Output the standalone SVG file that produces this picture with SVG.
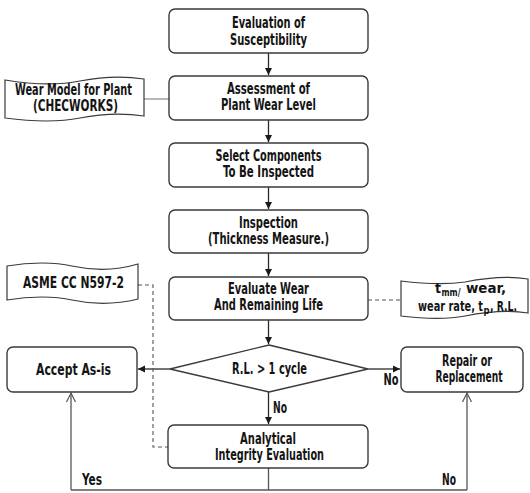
<svg xmlns="http://www.w3.org/2000/svg" width="530" height="493" viewBox="0 0 530 493">
  <style>
    .box { fill: #fff; stroke: #3a3a3a; stroke-width: 1.4; }
    .doc { fill: #fff; stroke: #3a3a3a; stroke-width: 1.2; }
    .lbl { font-family: "DejaVu Sans Condensed", "Liberation Sans Narrow", sans-serif; font-stretch: condensed; font-weight: bold; font-size: 15.5px; fill: #141414; text-anchor: middle; }
    .st { text-anchor: start; font-size: 14px; }
    .sub { font-size: 10px; }
    .flow { fill: none; stroke: #2a2a2a; stroke-width: 1.3; }
    .ret { fill: none; stroke: #555; stroke-width: 1.3; }
    .dash { fill: none; stroke: #555; stroke-width: 1.1; stroke-dasharray: 4 3; }
    .ref { fill: none; stroke: #888; stroke-width: 1.2; }
  </style>
  <defs>
    <marker id="arr" markerWidth="8" markerHeight="8" refX="7" refY="4" orient="auto" markerUnits="userSpaceOnUse">
      <path d="M0,0.5 L7,4 L0,7.5 Z" fill="#1a1a1a"/>
    </marker>
    <marker id="open" markerWidth="12" markerHeight="12" refX="10" refY="6" orient="auto" markerUnits="userSpaceOnUse">
      <path d="M1,1.5 L10,6 L1,10.5" fill="none" stroke="#555" stroke-width="1.2"/>
    </marker>
  </defs>

  <!-- connectors -->
  <g id="connectors">
    <line class="flow" x1="268.5" y1="53" x2="268.5" y2="75" marker-end="url(#arr)"/>
    <line class="flow" x1="268.5" y1="120" x2="268.5" y2="142" marker-end="url(#arr)"/>
    <line class="flow" x1="268.5" y1="187" x2="268.5" y2="209" marker-end="url(#arr)"/>
    <line class="flow" x1="268.5" y1="253" x2="268.5" y2="276" marker-end="url(#arr)"/>
    <line class="flow" x1="268.5" y1="320" x2="268.5" y2="344" marker-end="url(#arr)"/>
    <line class="flow" x1="268.5" y1="392" x2="268.5" y2="424" marker-end="url(#arr)"/>
    <line class="flow" x1="170" y1="369" x2="138" y2="369" marker-end="url(#arr)"/>
    <line class="flow" x1="368" y1="369" x2="400" y2="369" marker-end="url(#arr)"/>
    <!-- return lines from the integrity evaluation -->
    <path class="ret" d="M268.5,468 V490"/>
    <path class="ret" d="M71,490 H467"/>
    <line class="ret" x1="71" y1="490" x2="71" y2="393" marker-end="url(#open)"/>
    <line class="ret" x1="467" y1="490" x2="467" y2="393" marker-end="url(#open)"/>
    <!-- reference links -->
    <line class="ref" x1="144" y1="99" x2="169" y2="99"/>
    <path class="dash" d="M138,285 H153 V447 H168"/>
    <line class="dash" x1="368" y1="300" x2="401" y2="300"/>
    <!-- branch labels -->
    <text class="lbl" x="280" y="413" textLength="14" lengthAdjust="spacingAndGlyphs">No</text>
    <text class="lbl" x="391" y="385" textLength="15" lengthAdjust="spacingAndGlyphs">No</text>
    <text class="lbl" x="92" y="485" textLength="20" lengthAdjust="spacingAndGlyphs">Yes</text>
    <text class="lbl" x="449" y="485" textLength="14" lengthAdjust="spacingAndGlyphs">No</text>
  </g>

  <g id="n-susceptibility">
    <rect class="box" x="169" y="9" width="199" height="44" rx="6"/>
    <text class="lbl" x="268.5" y="28" textLength="73" lengthAdjust="spacingAndGlyphs">Evaluation of</text>
    <text class="lbl" x="268.5" y="45" textLength="77" lengthAdjust="spacingAndGlyphs">Susceptibility</text>
  </g>

  <g id="n-assessment">
    <rect class="box" x="169" y="76" width="199" height="44" rx="6"/>
    <text class="lbl" x="268.5" y="94" textLength="83" lengthAdjust="spacingAndGlyphs">Assessment of</text>
    <text class="lbl" x="268.5" y="110" textLength="95" lengthAdjust="spacingAndGlyphs">Plant Wear Level</text>
  </g>

  <g id="n-select">
    <rect class="box" x="169" y="143" width="199" height="44" rx="6"/>
    <text class="lbl" x="268.5" y="161" textLength="106" lengthAdjust="spacingAndGlyphs">Select Components</text>
    <text class="lbl" x="268.5" y="177" textLength="91" lengthAdjust="spacingAndGlyphs">To Be Inspected</text>
  </g>

  <g id="n-inspection">
    <rect class="box" x="169" y="210" width="199" height="43" rx="6"/>
    <text class="lbl" x="268.5" y="228" textLength="59" lengthAdjust="spacingAndGlyphs">Inspection</text>
    <text class="lbl" x="268.5" y="244" textLength="121" lengthAdjust="spacingAndGlyphs">(Thickness Measure.)</text>
  </g>

  <g id="n-evaluate">
    <rect class="box" x="169" y="277" width="199" height="43" rx="6"/>
    <text class="lbl" x="268.5" y="294" textLength="81" lengthAdjust="spacingAndGlyphs">Evaluate Wear</text>
    <text class="lbl" x="268.5" y="310" textLength="109" lengthAdjust="spacingAndGlyphs">And Remaining Life</text>
  </g>

  <g id="n-decision">
    <polygon class="box" points="269,345 368,369 269,392 170,369"/>
    <text class="lbl" x="269.5" y="374" textLength="75" lengthAdjust="spacingAndGlyphs">R.L. &gt; 1 cycle</text>
  </g>

  <g id="n-accept">
    <rect class="box" x="7" y="347" width="130" height="45" rx="6"/>
    <text class="lbl" x="73.5" y="375" textLength="75" lengthAdjust="spacingAndGlyphs">Accept  As-is</text>
  </g>

  <g id="n-repair">
    <rect class="box" x="401" y="347" width="122" height="45" rx="6"/>
    <text class="lbl" x="467" y="366" textLength="50" lengthAdjust="spacingAndGlyphs">Repair or</text>
    <text class="lbl" x="469" y="382" textLength="67" lengthAdjust="spacingAndGlyphs">Replacement</text>
  </g>

  <g id="n-analytical">
    <rect class="box" x="168" y="425" width="200" height="43" rx="6"/>
    <text class="lbl" x="268" y="444" textLength="56" lengthAdjust="spacingAndGlyphs">Analytical</text>
    <text class="lbl" x="269.5" y="460" textLength="109" lengthAdjust="spacingAndGlyphs">Integrity Evaluation</text>
  </g>

  <g id="d-checworks">
    <path class="doc" d="M5,80 C35,85 60,85 80,81 C105,76 125,76 144,79 V116 C125,113 105,113 80,118 C60,122 35,122 5,118 Z"/>
    <text class="lbl" x="73.5" y="95" textLength="117" lengthAdjust="spacingAndGlyphs">Wear Model for Plant</text>
    <text class="lbl" x="75.5" y="111" textLength="85" lengthAdjust="spacingAndGlyphs">(CHECWORKS)</text>
  </g>

  <g id="d-asme">
    <path class="doc" d="M7,266 C30,262 55,262 72,266 C95,271 118,270 138,264 V299 C118,304 95,305 72,300 C55,296 30,296 7,300 Z"/>
    <text class="lbl" x="73.5" y="288" textLength="101" lengthAdjust="spacingAndGlyphs">ASME CC N597-2</text>
  </g>

  <g id="d-wear-data">
    <path class="doc" d="M401,281 C425,284 445,285 465,282 C490,277 510,276 528,279 V313 C510,310 490,311 465,316 C445,320 425,319 401,316 Z"/>
    <!-- first line: t with subscript "mm/", then "wear," -->
    <text class="lbl st" x="435" y="293" textLength="6" lengthAdjust="spacingAndGlyphs">t</text>
    <text class="lbl st sub" x="441.5" y="296" textLength="19" lengthAdjust="spacingAndGlyphs">mm/</text>
    <text class="lbl st" x="466" y="293" textLength="40" lengthAdjust="spacingAndGlyphs">wear,</text>
    <!-- second line: "wear rate, t" with subscript "p", then ", R.L." -->
    <text class="lbl st" x="418" y="311" textLength="65" lengthAdjust="spacingAndGlyphs">wear rate, t</text>
    <text class="lbl st sub" x="483.5" y="314" textLength="6" lengthAdjust="spacingAndGlyphs">p</text>
    <text class="lbl st" x="490" y="311" textLength="27" lengthAdjust="spacingAndGlyphs">, R.L.</text>
  </g>
</svg>
